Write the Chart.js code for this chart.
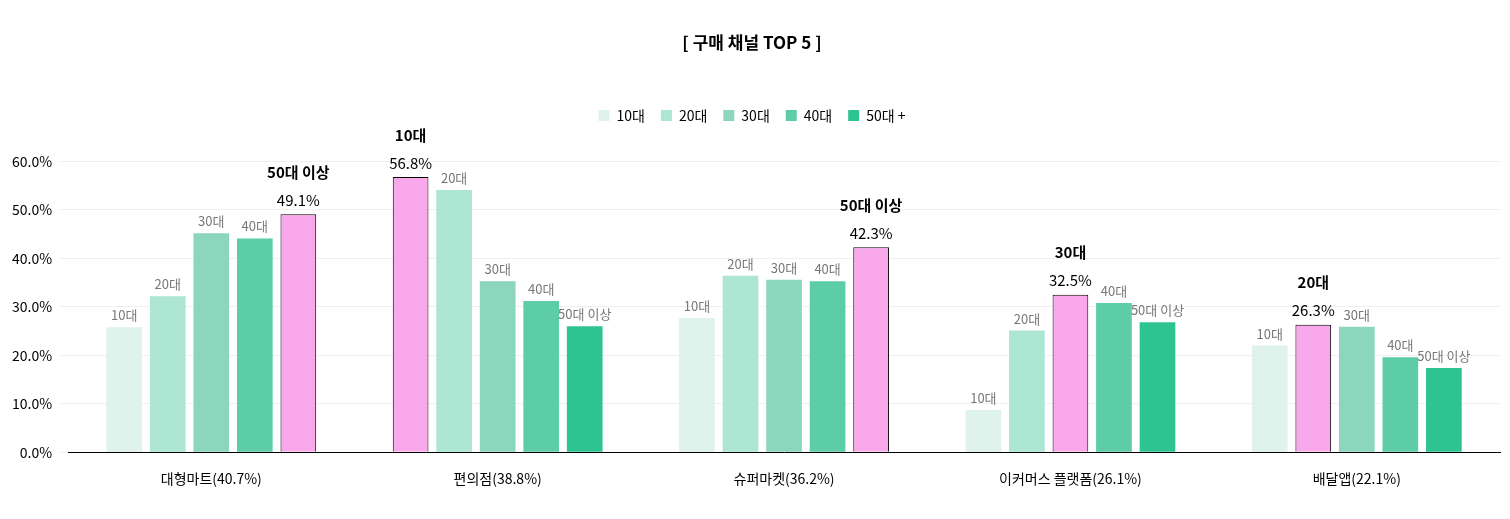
<!DOCTYPE html>
<html><head><meta charset="utf-8">
<script src="https://cdn.jsdelivr.net/npm/chart.js@4"></script>
<style>
body{margin:0;background:#fff;font-family:"Noto Sans CJK KR","Noto Sans",sans-serif;}
#wrap{position:relative;width:1510px;height:519px;}
</style></head><body>
<div id="wrap"><canvas id="c"></canvas></div>
<script>
const categories = ['대형마트(40.7%)', '편의점(38.8%)', '슈퍼마켓(36.2%)', '이커머스 플랫폼(26.1%)', '배달앱(22.1%)'];
const seriesNames = ['10대', '20대', '30대', '40대', '50대 +'];
const barLabels = ['10대', '20대', '30대', '40대', '50대 이상'];
const s10 = [25.8, 56.8, 27.7, 8.7, 22.0];
const s20 = [32.2, 54.1, 36.4, 25.1, 26.3];
const s30 = [45.2, 35.3, 35.6, 32.5, 25.9];
const s40 = [44.1, 31.2, 35.3, 30.8, 19.6];
const s50 = [49.1, 26.0, 42.3, 26.8, 17.4];
const yTicks = [0, 10, 20, 30, 40, 50, 60];

const colors = ['#dff3ec', '#ade6d2', '#8bd6bd', '#5dcda8', '#2ec492'];
const pink = '#f9a8eb';
const all = [s10, s20, s30, s40, s50];

// which series is the max for each category
const maxIdx = categories.map((c, i) => {
  let m = 0;
  all.forEach((s, j) => { if (s[i] > all[m][i]) m = j; });
  return m;
});

const datasets = all.map((s, j) => ({
  label: seriesNames[j],
  data: s,
  backgroundColor: s.map((v, i) => maxIdx[i] === j ? pink : colors[j]),
  borderColor: s.map((v, i) => maxIdx[i] === j ? '#000' : colors[j]),
  borderWidth: s.map((v, i) => maxIdx[i] === j ? 1 : 0),
  categoryPercentage: 0.76,
  barPercentage: 0.82
}));

const labelPlugin = {
  id: 'barLabels',
  afterDatasetsDraw(chart) {
    const ctx = chart.ctx;
    ctx.save();
    ctx.textAlign = 'center';
    chart.data.datasets.forEach((ds, j) => {
      chart.getDatasetMeta(j).data.forEach((bar, i) => {
        if (maxIdx[i] === j) {
          ctx.fillStyle = '#000';
          ctx.font = 'bold 15px "Noto Sans CJK KR"';
          ctx.fillText(barLabels[j], bar.x, bar.y - 42);
          ctx.font = '15px "Noto Sans CJK KR"';
          ctx.fillText(ds.data[i].toFixed(1) + '%', bar.x, bar.y - 14);
        } else {
          ctx.fillStyle = '#777';
          ctx.font = '13px "Noto Sans CJK KR"';
          ctx.fillText(barLabels[j], bar.x, bar.y - 12);
        }
      });
    });
    ctx.restore();
  }
};

new Chart(document.getElementById('c'), {
  type: 'bar',
  data: { labels: categories, datasets: datasets },
  options: {
    responsive: true,
    maintainAspectRatio: false,
    animation: false,
    layout: { padding: { left: 4, right: 10, top: 0, bottom: 22 } },
    plugins: {
      title: {
        display: true, text: '[ 구매 채널 TOP 5 ]', color: '#000',
        font: { size: 17, weight: 'bold', family: '"Noto Sans CJK KR"' },
        padding: { top: 32, bottom: 40 }
      },
      legend: {
        labels: {
          boxWidth: 11, boxHeight: 11, color: '#000',
          font: { size: 14, family: '"Noto Sans CJK KR"' },
          padding: 16,
          generateLabels: (chart) => seriesNames.map((n, j) => ({
            text: n, fillStyle: colors[j], strokeStyle: colors[j], lineWidth: 0, datasetIndex: j
          }))
        }
      },
      tooltip: { enabled: false }
    },
    scales: {
      x: {
        grid: { display: false },
        border: { color: '#000' },
        ticks: { color: '#000', font: { size: 14, family: '"Noto Sans CJK KR"' }, padding: 10 }
      },
      y: {
        min: 0, max: 66,
        afterBuildTicks: (axis) => { axis.ticks = yTicks.map(v => ({ value: v })); },
        grid: { color: '#f0f0f0' },
        border: { display: false },
        ticks: { color: '#000', font: { size: 14, family: '"Noto Sans CJK KR"' },
          callback: v => v.toFixed(1) + '%', padding: 8 }
      }
    }
  },
  plugins: [labelPlugin]
});
</script>
</body></html>
